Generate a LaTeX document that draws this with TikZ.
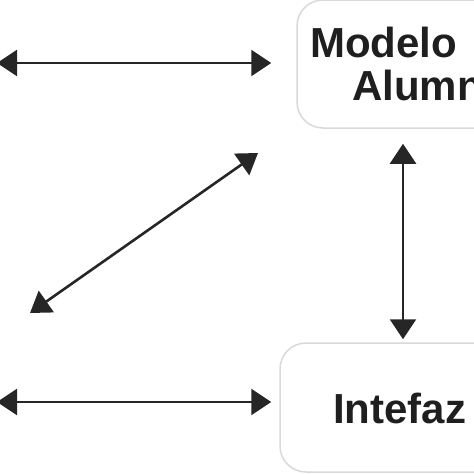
\documentclass[tikz,border=0pt]{standalone}
\usepackage{fontspec}
\setmainfont{Liberation Sans}
\usetikzlibrary{arrows.meta,positioning,calc}

\begin{document}
\begin{tikzpicture}[
  x=1pt, y=-1pt,
  box/.style={rectangle, rounded corners=26pt, draw=black!15, line width=1.5pt,
              fill=white, inner sep=0pt},
  lbl/.style={anchor=base west, inner sep=0pt, text=black!88,
              font=\fontsize{42}{48}\selectfont\bfseries},
  arr/.style={{Triangle[length=20pt,width=26pt]}-{Triangle[length=20pt,width=26pt]},
              line width=2.6pt, draw=black!85},
]
\useasboundingbox (0,0) rectangle (474,474);
\clip (0,0) rectangle (474,474);
% boxes on the right
\node[box, minimum width=212pt, minimum height=128pt] (alumno) at (403,64) {};
\node[box, minimum width=246pt, minimum height=129pt] (interfaz) at (403,407.5) {};
\node[lbl] (t1) at (310,57) {Modelo};
\node[lbl] (t2) at (352,100) {Alumno};
\node[lbl] (t3) at (333,423) {Intefaz};
% free ends on the left
\coordinate (l1) at (-3,63);
\coordinate (l2) at (-3,402);
\coordinate (d1) at (30,313);
\coordinate (d2) at (258,153);
% connectors
\draw[arr, shorten >=25pt] (l1) -- (l1 -| alumno.west);
\draw[arr, shorten >=8pt] (l2) -- (l2 -| interfaz.west);
\draw[arr] (d1) -- (d2);
\draw[arr, shorten <=15pt, shorten >=3pt] (alumno.south) -- (interfaz.north);
\end{tikzpicture}
\end{document}
